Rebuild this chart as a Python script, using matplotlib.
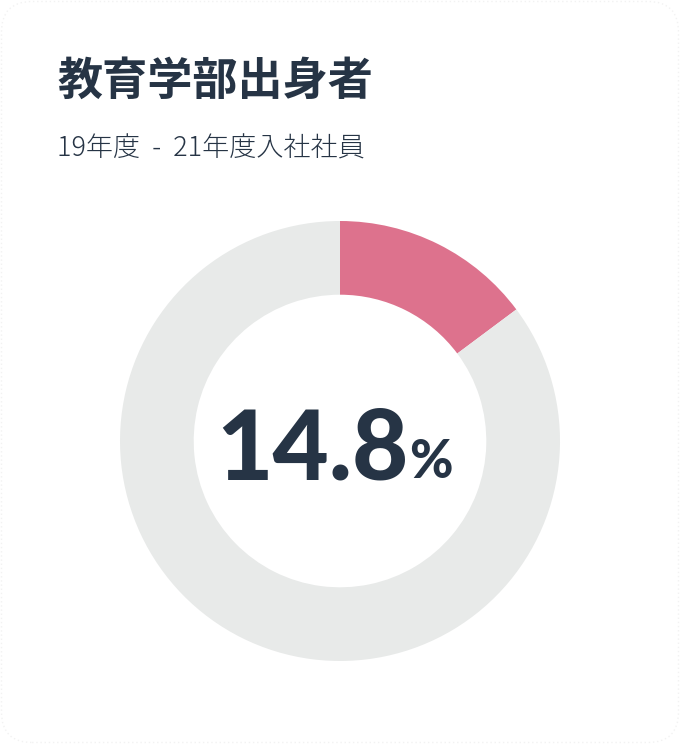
import matplotlib.pyplot as plt
from matplotlib.patches import FancyBboxPatch

# data
title = "教育学部出身者"
subtitle = "19年度 - 21年度入社社員"
labels = ["教育学部", "その他"]
shares = [14.8, 85.2]
center_value = "14.8"
center_unit = "%"

pink = "#dd728d"
grey = "#e8eae9"
navy = "#263445"

W, H = 680, 744
fig = plt.figure(figsize=(W / 100, H / 100), dpi=100)
fig.patch.set_facecolor("white")

# card outline (very faint, rounded), kept behind everything
card = FancyBboxPatch((1.5 / W, 1.5 / H), 1 - 3 / W, 1 - 3 / H,
                      boxstyle="round,pad=0,rounding_size=0.045",
                      transform=fig.transFigure, facecolor="white",
                      edgecolor="#f2f2f2", linewidth=1.0, linestyle=(0, (1, 2)),
                      mutation_aspect=W / H, zorder=-10)
fig.patches.append(card)

jp = ["Noto Sans CJK JP", "DejaVu Sans"]
fig.text(57 / W, 1 - 82 / H, title, family=jp, fontsize=32.5, fontweight="bold",
         color=navy, va="center", ha="left")
fig.text(57 / W, 1 - 149 / H, subtitle.replace(" - ", "  -  "), family=jp,
         fontsize=19.5, fontweight="light", color=navy, va="center", ha="left")

# donut, centre at (340, 441) px, outer radius 220 px
cx, cy, r = 340, 441, 220
ax = fig.add_axes([(cx - r) / W, (H - cy - r) / H, 2 * r / W, 2 * r / H])
ax.pie(shares, colors=[pink, grey], startangle=90, counterclock=False,
       radius=1, wedgeprops=dict(width=0.335, linewidth=0))
ax.set_xlim(-1, 1)
ax.set_ylim(-1, 1)
ax.set_aspect("equal")
ax.axis("off")

fig.text(312 / W, 1 - 451 / H, center_value, family=["Lato", "DejaVu Sans"],
         fontsize=70, fontweight="black", color=navy, ha="center", va="center")
fig.text(431 / W, 1 - 462 / H, center_unit, family=["Lato", "DejaVu Sans"],
         fontsize=38, fontweight="black", color=navy, ha="center", va="center")

fig.savefig("out.png", dpi=100, facecolor="white")
